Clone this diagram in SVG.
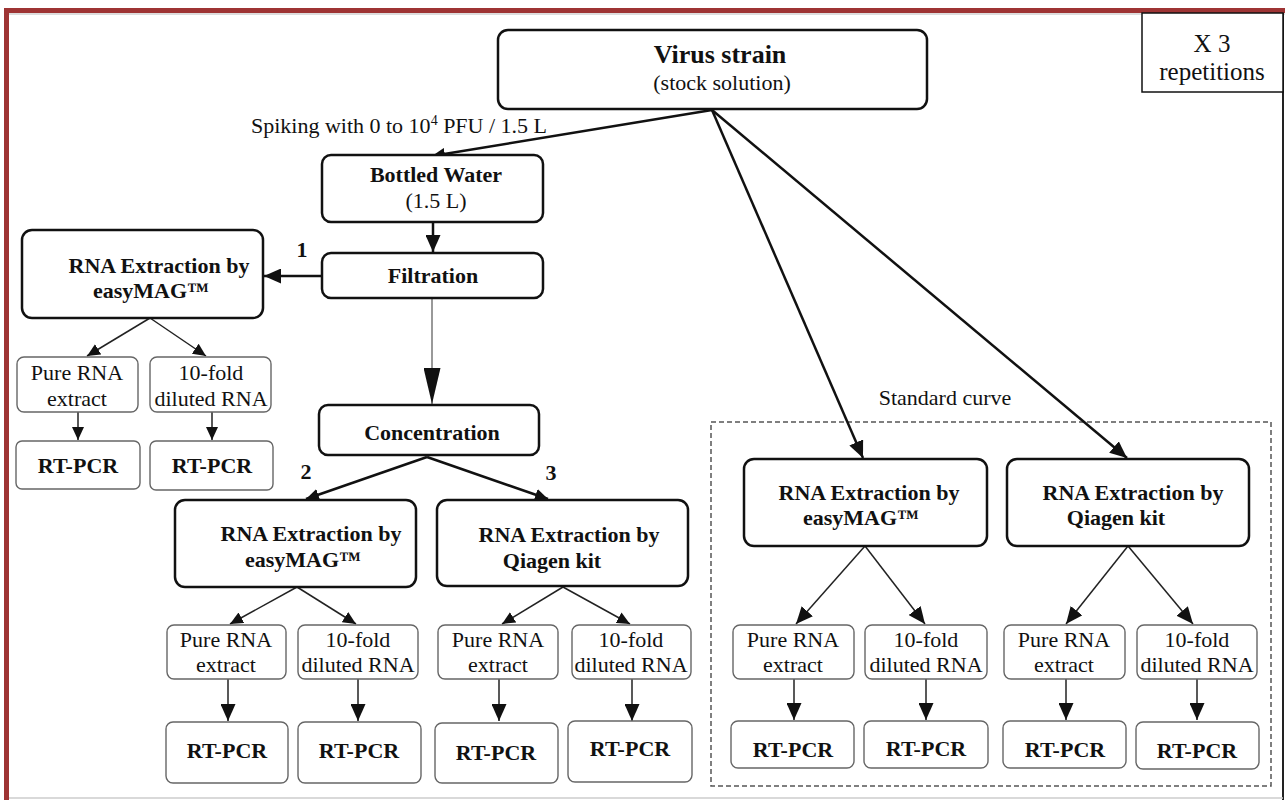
<svg xmlns="http://www.w3.org/2000/svg" width="1285" height="800" viewBox="0 0 1285 800">
<style>
text{font-family:"Liberation Serif","Times New Roman",serif;fill:#111;text-anchor:middle}
.b{font-weight:bold;font-size:22px}
.r{font-size:22px}
.main{fill:#fff;stroke:#111;stroke-width:2.5}
.sub{fill:#fff;stroke:#666;stroke-width:1.4}
.thick{stroke:#111;stroke-width:2.5;fill:none}
.thin{stroke:#222;stroke-width:1.5;fill:none}
</style>
<defs>
<marker id="a" viewBox="0 0 17 15" refX="17" refY="7.5" markerWidth="17" markerHeight="15" markerUnits="userSpaceOnUse" orient="auto"><path d="M0,0L17,7.5L0,15z" fill="#111"/></marker>
<marker id="s" viewBox="0 0 13 12" refX="13" refY="6" markerWidth="13" markerHeight="12" markerUnits="userSpaceOnUse" orient="auto"><path d="M0,0L13,6L0,12z" fill="#111"/></marker>
<marker id="big" viewBox="0 0 36 17" refX="36" refY="8.5" markerWidth="36" markerHeight="17" markerUnits="userSpaceOnUse" orient="auto"><path d="M0,0L36,8.5L0,17z" fill="#111"/></marker>
</defs>
<rect width="1285" height="800" fill="#fff"/>
<g id="frame">
<rect x="4" y="8" width="1281" height="5" fill="#9e3434"/>
<rect x="4" y="8" width="5" height="792" fill="#9e3434"/>
<line x1="9" y1="14" x2="1285" y2="14" stroke="#bbb" stroke-width="1"/>
<line x1="1283" y1="13" x2="1283" y2="800" stroke="#222" stroke-width="2"/>
<line x1="9" y1="798" x2="1283" y2="798" stroke="#ccc" stroke-width="1.5"/>
</g>
<g id="standard-curve">
<rect x="711" y="422" width="560" height="364" fill="none" stroke="#555" stroke-width="1.5" stroke-dasharray="5 3"/>
<text class="r" x="945" y="405">Standard curve</text>
</g>
<g id="connectors">
<line class="thick" x1="712" y1="110" x2="432" y2="156" marker-end="url(#s)"/>
<line class="thick" x1="712" y1="110" x2="863" y2="458" marker-end="url(#a)"/>
<line class="thick" x1="712" y1="110" x2="1127" y2="458" marker-end="url(#a)"/>
<line class="thick" x1="433" y1="222" x2="433" y2="252" marker-end="url(#a)"/>
<line class="thick" x1="322" y1="276" x2="264" y2="276" marker-end="url(#a)"/>
<line x1="432" y1="298" x2="432" y2="404" stroke="#777" stroke-width="1.5" marker-end="url(#big)"/>
<line class="thick" x1="427" y1="457" x2="306" y2="499" marker-end="url(#s)"/>
<line class="thick" x1="427" y1="457" x2="548" y2="499" marker-end="url(#s)"/>
<line class="thin" x1="150" y1="318" x2="87" y2="356" marker-end="url(#s)"/>
<line class="thin" x1="150" y1="318" x2="206" y2="356" marker-end="url(#s)"/>
<line class="thin" x1="78" y1="412" x2="78" y2="440" marker-end="url(#s)"/>
<line class="thin" x1="212" y1="412" x2="212" y2="440" marker-end="url(#s)"/>
<line class="thin" x1="297" y1="587" x2="230" y2="624" marker-end="url(#s)"/>
<line class="thin" x1="297" y1="587" x2="356" y2="624" marker-end="url(#s)"/>
<line class="thin" x1="563" y1="587" x2="502" y2="624" marker-end="url(#s)"/>
<line class="thin" x1="563" y1="587" x2="630" y2="624" marker-end="url(#s)"/>
<line class="thin" x1="228" y1="679" x2="228" y2="721" marker-end="url(#a)"/>
<line class="thin" x1="358" y1="679" x2="358" y2="721" marker-end="url(#a)"/>
<line class="thin" x1="499" y1="679" x2="499" y2="721" marker-end="url(#a)"/>
<line class="thin" x1="632" y1="679" x2="632" y2="721" marker-end="url(#a)"/>
<line class="thin" x1="865" y1="546" x2="796" y2="624" marker-end="url(#a)"/>
<line class="thin" x1="865" y1="546" x2="925" y2="624" marker-end="url(#a)"/>
<line class="thin" x1="1128" y1="546" x2="1066" y2="624" marker-end="url(#a)"/>
<line class="thin" x1="1128" y1="546" x2="1193" y2="624" marker-end="url(#a)"/>
<line class="thin" x1="794" y1="679" x2="794" y2="720" marker-end="url(#a)"/>
<line class="thin" x1="926" y1="679" x2="926" y2="720" marker-end="url(#a)"/>
<line class="thin" x1="1066" y1="679" x2="1066" y2="720" marker-end="url(#a)"/>
<line class="thin" x1="1197" y1="679" x2="1197" y2="720" marker-end="url(#a)"/>
<text class="r" x="399" y="133">Spiking with 0 to 10<tspan font-size="14" dy="-8">4</tspan><tspan dy="8"> PFU / 1.5 L</tspan></text>
<text class="b" x="302" y="257">1</text>
<text class="b" x="306" y="479">2</text>
<text class="b" x="551" y="480">3</text>
</g>
<g id="repetitions">
<rect x="1142" y="13" width="141" height="79" fill="#fff" stroke="#111" stroke-width="1.5"/>
<text font-size="25" x="1212" y="52">X 3</text>
<text font-size="25" x="1212" y="80">repetitions</text>
</g>
<g id="virus">
<rect class="main" x="498" y="30" width="429" height="79" rx="10"/>
<text class="b" font-size="26" x="720" y="63" style="font-size:26px">Virus strain</text>
<text class="r" x="722" y="90">(stock solution)</text>
</g>
<g id="bottled">
<rect class="main" x="322" y="155" width="221" height="67" rx="9"/>
<text class="b" x="436" y="182">Bottled Water</text>
<text class="r" x="436" y="208">(1.5 L)</text>
</g>
<g id="filtration">
<rect class="main" x="322" y="253" width="221" height="45" rx="9"/>
<text class="b" x="433" y="283">Filtration</text>
</g>
<g id="easymag1">
<rect class="main" x="22" y="230" width="241" height="88" rx="10"/>
<text class="b" x="159" y="273">RNA Extraction by</text>
<text class="b" x="151" y="298">easyMAG™</text>
</g>
<g id="pure1"><rect class="sub" x="17" y="357" width="121" height="55" rx="7"/><text class="r" x="77" y="380">Pure RNA</text><text class="r" x="77" y="406">extract</text></g>
<g id="fold1"><rect class="sub" x="150" y="357" width="121" height="55" rx="7"/><text class="r" x="211" y="380">10-fold</text><text class="r" x="211" y="406">diluted RNA</text></g>
<g id="rt1a"><rect class="sub" x="16" y="441" width="124" height="48" rx="6"/><text class="b" x="78" y="473">RT-PCR</text></g>
<g id="rt1b"><rect class="sub" x="150" y="441" width="123" height="49" rx="6"/><text class="b" x="212" y="473">RT-PCR</text></g>
<g id="concentration">
<rect class="main" x="319" y="405" width="220" height="50" rx="9"/>
<text class="b" x="432" y="440">Concentration</text>
</g>
<g id="easymag2">
<rect class="main" x="175" y="500" width="241" height="87" rx="10"/>
<text class="b" x="311" y="541">RNA Extraction by</text>
<text class="b" x="303" y="567">easyMAG™</text>
</g>
<g id="qiagen2">
<rect class="main" x="437" y="500" width="251" height="86" rx="10"/>
<text class="b" x="569" y="542">RNA Extraction by</text>
<text class="b" x="552" y="568">Qiagen kit</text>
</g>
<g id="pure2a"><rect class="sub" x="167" y="625" width="119" height="54" rx="7"/><text class="r" x="226" y="647">Pure RNA</text><text class="r" x="226" y="672">extract</text></g>
<g id="fold2a"><rect class="sub" x="298" y="625" width="120" height="54" rx="7"/><text class="r" x="358" y="647">10-fold</text><text class="r" x="358" y="672">diluted RNA</text></g>
<g id="pure2b"><rect class="sub" x="438" y="625" width="120" height="54" rx="7"/><text class="r" x="498" y="647">Pure RNA</text><text class="r" x="498" y="672">extract</text></g>
<g id="fold2b"><rect class="sub" x="572" y="625" width="119" height="54" rx="7"/><text class="r" x="631" y="647">10-fold</text><text class="r" x="631" y="672">diluted RNA</text></g>
<g id="rt2a"><rect class="sub" x="166" y="722" width="122" height="61" rx="7"/><text class="b" x="227" y="758">RT-PCR</text></g>
<g id="rt2b"><rect class="sub" x="298" y="722" width="123" height="61" rx="7"/><text class="b" x="359" y="758">RT-PCR</text></g>
<g id="rt2c"><rect class="sub" x="435" y="723" width="123" height="60" rx="7"/><text class="b" x="496" y="760">RT-PCR</text></g>
<g id="rt2d"><rect class="sub" x="568" y="721" width="124" height="61" rx="7"/><text class="b" x="630" y="756">RT-PCR</text></g>
<g id="easymag3">
<rect class="main" x="744" y="459" width="243" height="87" rx="10"/>
<text class="b" x="869" y="500">RNA Extraction by</text>
<text class="b" x="861" y="525">easyMAG™</text>
</g>
<g id="qiagen3">
<rect class="main" x="1007" y="459" width="242" height="87" rx="10"/>
<text class="b" x="1133" y="500">RNA Extraction by</text>
<text class="b" x="1116" y="525">Qiagen kit</text>
</g>
<g id="pure3a"><rect class="sub" x="733" y="625" width="121" height="54" rx="7"/><text class="r" x="793" y="647">Pure RNA</text><text class="r" x="793" y="672">extract</text></g>
<g id="fold3a"><rect class="sub" x="865" y="625" width="122" height="54" rx="7"/><text class="r" x="926" y="647">10-fold</text><text class="r" x="926" y="672">diluted RNA</text></g>
<g id="pure3b"><rect class="sub" x="1004" y="625" width="121" height="54" rx="7"/><text class="r" x="1064" y="647">Pure RNA</text><text class="r" x="1064" y="672">extract</text></g>
<g id="fold3b"><rect class="sub" x="1137" y="625" width="120" height="54" rx="7"/><text class="r" x="1197" y="647">10-fold</text><text class="r" x="1197" y="672">diluted RNA</text></g>
<g id="rt3a"><rect class="sub" x="731" y="721" width="123" height="47" rx="7"/><text class="b" x="793" y="757">RT-PCR</text></g>
<g id="rt3b"><rect class="sub" x="864" y="721" width="124" height="47" rx="7"/><text class="b" x="926" y="756">RT-PCR</text></g>
<g id="rt3c"><rect class="sub" x="1003" y="721" width="123" height="47" rx="7"/><text class="b" x="1065" y="757">RT-PCR</text></g>
<g id="rt3d"><rect class="sub" x="1136" y="722" width="123" height="47" rx="7"/><text class="b" x="1197" y="758">RT-PCR</text></g>
</svg>
